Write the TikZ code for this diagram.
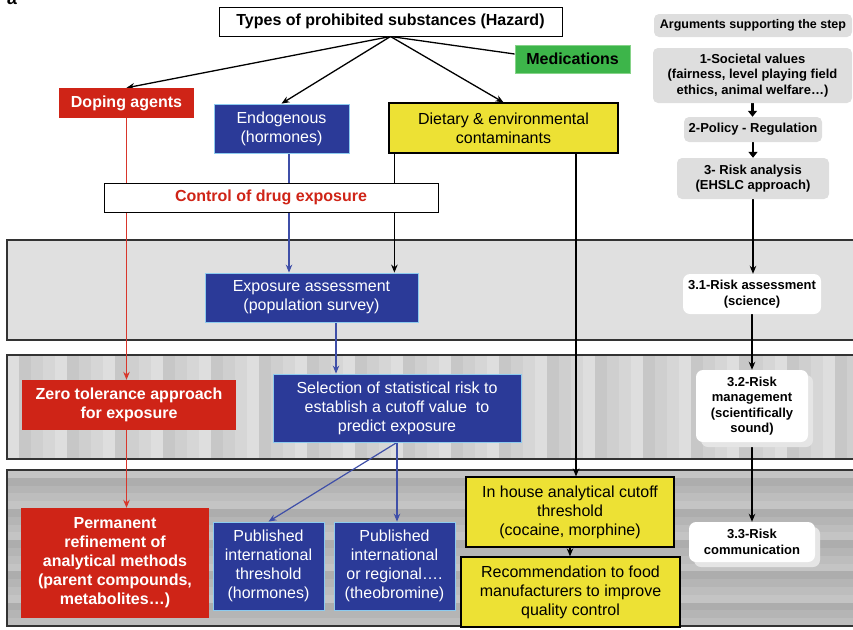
\documentclass[tikz,border=0pt]{standalone}
\usepackage{fontspec}
\setmainfont{Liberation Sans}
\usetikzlibrary{arrows.meta,shadows}

\definecolor{dopred}{HTML}{CF2417}
\definecolor{endoblue}{HTML}{2B3A98}
\definecolor{edgeblue}{HTML}{8CCBEF}
\definecolor{dietyellow}{HTML}{EDE134}
\definecolor{medgreen}{HTML}{3DB54A}
\definecolor{edgegreen}{HTML}{86D389}
\definecolor{stepgrey}{HTML}{DEDEDE}
\definecolor{linkblue}{HTML}{3F4FA8}
\definecolor{linkred}{HTML}{D8362B}

\pgfdeclarelayer{bands}
\pgfdeclarelayer{links}
\pgfsetlayers{bands,links,main}

\tikzset{
  whitebox/.style={fill=white, draw=black, line width=1pt, align=center, inner sep=1pt, font=\bfseries\fontsize{16}{19}\selectfont},
  redbox/.style={fill=dopred, text=white, align=center, inner sep=1pt, font=\bfseries\fontsize{16}{19}\selectfont},
  bluebox/.style={fill=endoblue, draw=edgeblue, line width=0.8pt, text=white, align=center, inner sep=1pt, font=\fontsize{16}{19}\selectfont},
  yellowbox/.style={fill=dietyellow, draw=black, line width=1.2pt, align=center, inner sep=1pt, font=\fontsize{16}{19}\selectfont},
  greenbox/.style={fill=medgreen, draw=edgegreen, line width=0.8pt, align=center, inner sep=1pt, font=\bfseries\fontsize{16}{19}\selectfont},
  argbox/.style={fill=stepgrey, rounded corners=5pt, align=center, inner sep=1pt, font=\bfseries\fontsize{13}{15.5}\selectfont},
  stepbox/.style={fill=white, rounded corners=7pt, align=center, inner sep=1pt, font=\bfseries\fontsize{13}{15.5}\selectfont},
  shadowed/.style={drop shadow={shadow xshift=5pt, shadow yshift=-5pt, fill=black!10, opacity=1}},
  bandline/.style={draw=black!80, line width=1.3pt},
  thickarrow/.style={line width=2.5pt, -{Triangle[length=6pt,width=9pt]}},
}

\begin{document}
\begin{tikzpicture}[x=1pt, y=-1pt, >={Stealth[length=8pt,width=6.5pt]}]
	\useasboundingbox (0,0) rectangle (853,629);

	% Bands of the risk analysis
	\begin{pgfonlayer}{bands}
		\fill[black!12] (7,240) rectangle (860,340);
		\foreach \i in {0,...,70} {
			\pgfmathtruncatemacro{\tone}{13+3*mod(\i*7,4)}
			\fill[black!\tone] ({7+12*\i},355) rectangle ({19+12*\i},459);
		}
		\foreach \i in {0,...,19} {
			\pgfmathtruncatemacro{\tone}{23+3*mod(\i*3,4)}
			\fill[black!\tone] (7,{470+7.8*\i}) rectangle (860,{477.8+7.8*\i});
		}
		\draw[bandline] (7,240) rectangle (860,340);
		\draw[bandline] (7,355) rectangle (860,459);
		\draw[bandline] (7,470) rectangle (860,626);
	\end{pgfonlayer}

	\node[font=\bfseries\fontsize{18}{20}\selectfont, anchor=base, inner sep=0pt] (panel) at (12,5) {a};

	% Define hazard types
	\node[whitebox, minimum width=343pt, minimum height=29pt] (hazard) at (390.5,21.5) {Types of prohibited substances (Hazard)};
	\node[greenbox, minimum width=115pt, minimum height=28pt] (medications) at (572.5,59) {Medications};
	\node[redbox, minimum width=135pt, minimum height=30pt] (doping) at (126.5,103) {Doping agents};
	\node[bluebox, minimum width=135pt, minimum height=49pt] (endogenous) at (281.5,128.5) {Endogenous\\(hormones)};
	\node[yellowbox, minimum width=229pt, minimum height=50pt] (dietary) at (503.5,128) {Dietary \& environmental\\contaminants};
	\node[whitebox, text=dopred, minimum width=334pt, minimum height=29pt] (control) at (271,197.5) {Control of drug exposure};

	% Define exposure and cutoff
	\node[bluebox, minimum width=213pt, minimum height=49pt] (exposure) at (311.5,297.5) {Exposure assessment\\(population survey)};
	\node[redbox, minimum width=214pt, minimum height=50pt] (zero) at (129,405) {Zero tolerance approach\\for exposure};
	\node[bluebox, minimum width=248pt, minimum height=68pt] (selection) at (397,408) {Selection of statistical risk to\\establish a cutoff value~ to\\predict exposure};

	% Define thresholds
	\node[redbox, minimum width=188pt, minimum height=110pt] (permanent) at (115,563) {Permanent\\refinement of\\analytical methods\\(parent compounds,\\metabolites…)};
	\node[bluebox, minimum width=111pt, minimum height=88pt] (pubone) at (268.5,566) {Published\\international\\threshold\\(hormones)};
	\node[bluebox, minimum width=121pt, minimum height=88pt] (pubtwo) at (394.5,566) {Published\\international\\or regional….\\(theobromine)};
	\node[yellowbox, minimum width=208pt, minimum height=70pt] (inhouse) at (570,512) {In house analytical cutoff\\threshold\\(cocaine, morphine)};
	\node[yellowbox, minimum width=219pt, minimum height=70pt] (recommend) at (570.5,592) {Recommendation to food\\manufacturers to improve\\quality control};

	% Define arguments column
	\node[argbox, font=\bfseries\fontsize{12.5}{15}\selectfont, minimum width=198pt, minimum height=23pt] (arguments) at (753,25.5) {Arguments supporting the step};
	\node[argbox, minimum width=199pt, minimum height=55pt] (societal) at (752.5,75.5) {1-Societal values\\(fairness, level playing field\\ethics, animal welfare…)};
	\node[argbox, minimum width=138pt, minimum height=25pt] (policy) at (753,129.5) {2-Policy - Regulation};
	\node[argbox, minimum width=152pt, minimum height=41pt] (analysis) at (753,178.5) {3- Risk analysis\\(EHSLC approach)};
	\node[stepbox, minimum width=138pt, minimum height=40pt] (assessment) at (752,294) {3.1-Risk assessment\\(science)};
	\node[stepbox, shadowed, minimum width=112pt, minimum height=72pt] (management) at (752,406) {3.2-Risk\\management\\(scientifically\\sound)};
	\node[stepbox, shadowed, minimum width=126pt, minimum height=40pt] (communication) at (752,542) {3.3-Risk\\communication};

	% Connectors
	\begin{pgfonlayer}{links}
		\draw[->, line width=1.3pt] (hazard.south) -- (doping.north);
		\draw[->, line width=1.3pt] (hazard.south) -- (endogenous.north);
		\draw[->, line width=1.3pt] (hazard.south) -- (dietary.north);
		\draw[line width=1.3pt] (hazard.south) -- ([yshift=5pt]medications.west);

		\draw[->, linkred, line width=1.2pt] (doping.south) -- (doping.south |- zero.north);
		\draw[->, linkred, line width=1.2pt] (doping.south |- zero.south) -- (doping.south |- permanent.north);
		\draw[->, linkblue, line width=1.2pt] ([xshift=7.5pt]endogenous.south) -- ([xshift=7.5pt]endogenous.south |- exposure.north);
		\draw[->, line width=1.4pt] ([xshift=6pt]dietary.south west) -- ([xshift=6pt]dietary.south west |- exposure.north);
		\draw[->, line width=1.4pt] ([xshift=6pt]inhouse.north |- dietary.south) -- ([xshift=6pt]inhouse.north);
		\draw[->, linkblue, line width=1.2pt] ([xshift=24.5pt]exposure.south) -- ([xshift=24.5pt]exposure.south |- selection.north);
		\draw[->, linkblue, line width=1.2pt] (selection.south) -- (pubone.north);
		\draw[->, linkblue, line width=1.2pt] (selection.south) -- (selection.south |- pubtwo.north);
		\draw[->, line width=1.3pt] (inhouse.south) -- (inhouse.south |- recommend.north);

		\draw[thickarrow] (societal.south) -- (societal.south |- policy.north);
		\draw[thickarrow] (policy.south) -- (analysis.north);
		\draw[->, line width=1.4pt] (analysis.south) -- (analysis.south |- assessment.north);
		\draw[->, line width=1.4pt] (assessment.south) -- (management.north);
		\draw[->, line width=1.4pt] (management.south) -- (communication.north);
	\end{pgfonlayer}
\end{tikzpicture}
\end{document}
